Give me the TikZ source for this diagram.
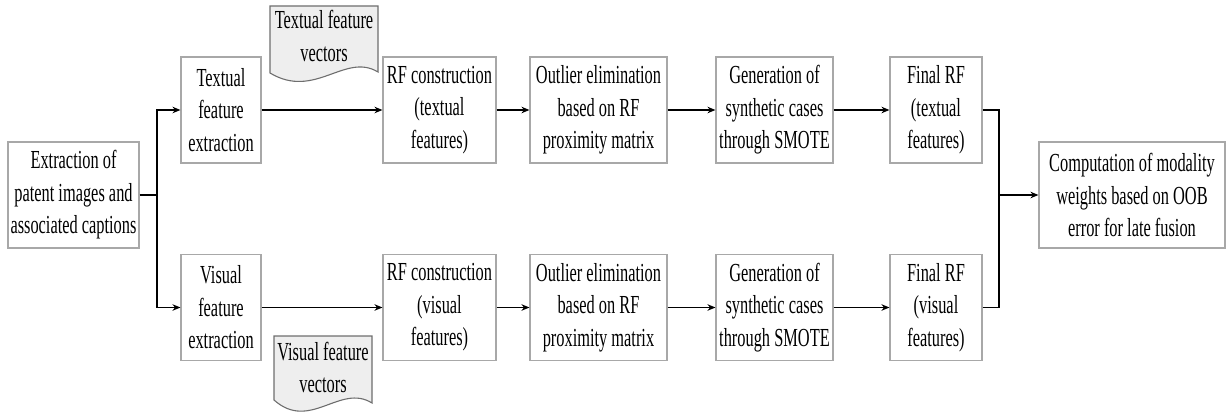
\documentclass[tikz,border=0pt]{standalone}
\usepackage{fontspec}
\setmainfont{Liberation Serif}[FakeStretch=0.63]
\usetikzlibrary{arrows.meta}
\definecolor{boxgray}{HTML}{A8A8A8}
\definecolor{docline}{HTML}{6E6E6E}
\definecolor{docfill}{HTML}{EEEEEE}
\begin{document}
\begin{tikzpicture}[x=1pt,y=-1pt,
  box/.style={draw=boxgray, line width=1.1pt, inner sep=0pt, align=center,
    minimum height=106pt, font=\fontsize{26}{32.5}\selectfont},
  doctext/.style={inner sep=0pt, align=center, font=\fontsize{26}{32.5}\selectfont},
  docshape/.style={draw=docline, fill=docfill, line width=1.1pt},
  arr/.style={-{Stealth[length=8pt,width=6.5pt]}, line width=1.3pt},
  ln/.style={line width=1.3pt}]
\useasboundingbox (0,0) rectangle (1229,414);

% documents
\draw[docshape] (270,6) -- (378,6) -- (378,72)
  .. controls (345,52) and (315,100) .. (270,73) -- cycle;
\node[doctext] (tdoc) at (324,36) {Textual feature\\vectors};
\draw[docshape] (274,336) -- (372,336) -- (372,403)
  .. controls (340,383) and (310,432) .. (274,400) -- cycle;
\node[doctext] (vdoc) at (323,367.5) {Visual feature\\vectors};

% boxes
\node[box, minimum width=131pt] (ext) at (73.5,195) {Extraction of\\patent images and\\associated captions};
\node[box, minimum width=80pt] (tfe) at (221,110) {Textual\\feature\\extraction};
\node[box, minimum width=80pt] (vfe) at (221,307.5) {Visual\\feature\\extraction};
\node[box, minimum width=113pt] (trf) at (439.5,110) {RF construction\\(textual\\features)};
\node[box, minimum width=113pt] (vrf) at (439.5,307.5) {RF construction\\(visual\\features)};
\node[box, minimum width=137pt] (tout) at (598.5,110) {Outlier elimination\\based on RF\\proximity matrix};
\node[box, minimum width=137pt] (vout) at (598.5,307.5) {Outlier elimination\\based on RF\\proximity matrix};
\node[box, minimum width=117pt] (tgen) at (774.5,110) {Generation of\\synthetic cases\\through SMOTE};
\node[box, minimum width=117pt] (vgen) at (774.5,307.5) {Generation of\\synthetic cases\\through SMOTE};
\node[box, minimum width=92pt] (tfin) at (936,110) {Final RF\\(textual\\features)};
\node[box, minimum width=92pt] (vfin) at (936,307.5) {Final RF\\(visual\\features)};
\node[box, minimum width=186pt] (comp) at (1132,195) {Computation of modality\\weights based on OOB\\error for late fusion};

% connectors
\coordinate (split) at (157,195);
\coordinate (join) at (999,195);
\draw[ln] (ext.east) -- (split);
\draw[arr] (split) |- (tfe.west);
\draw[arr] (split) |- (vfe.west);
\draw[arr] (tfe) -- (trf);
\draw[arr] (vfe) -- (vrf);
\draw[arr] (trf) -- (tout);
\draw[arr] (vrf) -- (vout);
\draw[arr] (tout) -- (tgen);
\draw[arr] (vout) -- (vgen);
\draw[arr] (tgen) -- (tfin);
\draw[arr] (vgen) -- (vfin);
\draw[ln] (tfin.east) -| (join);
\draw[ln] (vfin.east) -| (join);
\draw[arr] (join) -- (comp.west);
\end{tikzpicture}
\end{document}
